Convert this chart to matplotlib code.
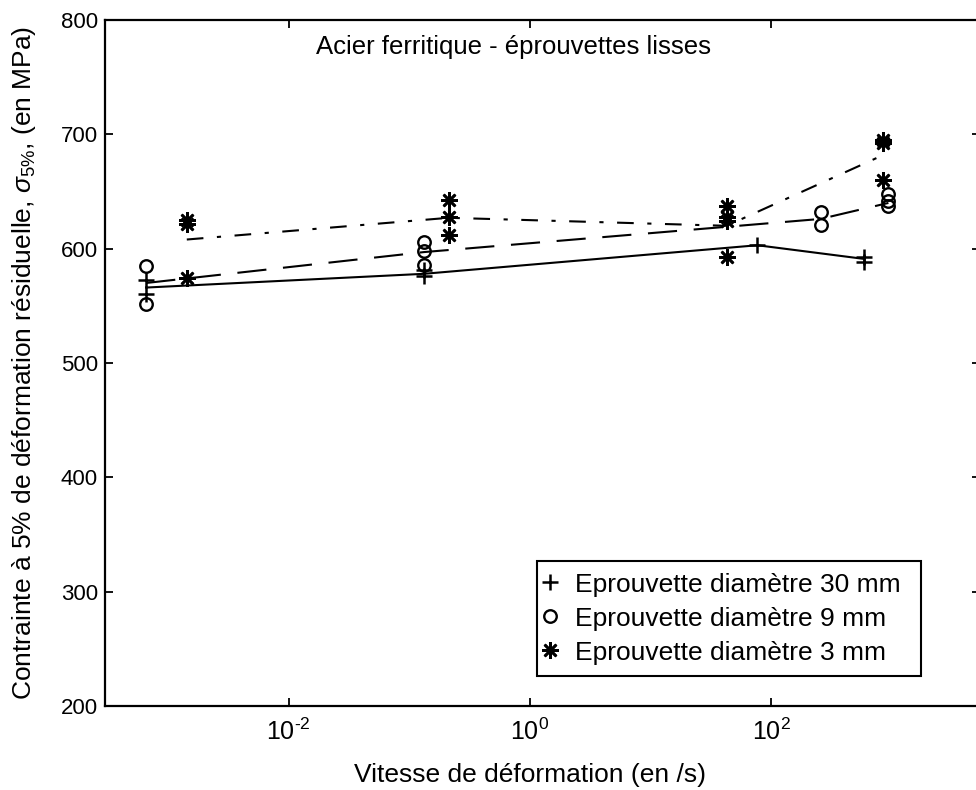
import matplotlib
matplotlib.use("Agg")
from matplotlib import pyplot as plt
from matplotlib.ticker import NullLocator

plt.rcParams["font.family"] = ["Liberation Sans", "DejaVu Sans"]
plt.rcParams["mathtext.fontset"] = "custom"
plt.rcParams["mathtext.rm"] = "Liberation Sans"
plt.rcParams["mathtext.it"] = "Liberation Sans:italic"
plt.rcParams["mathtext.default"] = "regular"

# measured points (strain rate in /s, stress in MPa)
rate_30 = [6.6e-4, 6.6e-4, 0.132, 0.132, 77, 595, 595]
sigma_30 = [573, 560, 581, 576, 603, 593, 588]

rate_9 = [6.6e-4, 6.6e-4, 0.132, 0.132, 0.132, 257, 257, 940, 940, 940]
sigma_9 = [585, 552, 606, 598, 586, 632, 621, 648, 642, 637]

rate_3 = [1.43e-3, 1.43e-3, 1.43e-3, 0.213, 0.213, 0.213,
          42.8, 42.8, 42.8, 42.8, 855, 855, 855]
sigma_3 = [625, 622, 574, 643, 628, 612, 637, 628, 624, 593, 695, 692, 660]

# lines joining the mean value of each group
line_rate_30 = [6.6e-4, 0.132, 77, 595]
line_sigma_30 = [566, 578, 603, 591]
line_rate_9 = [6.6e-4, 0.132, 257, 940]
line_sigma_9 = [570, 597, 626, 640]
line_rate_3 = [1.43e-3, 0.213, 42.8, 855]
line_sigma_3 = [608, 627, 620, 682]

labels = ["Eprouvette diamètre 30 mm", "Eprouvette diamètre 9 mm",
          "Eprouvette diamètre 3 mm"]
xtick_pos = [1e-2, 1, 1e2]
xtick_text = [r"$10^{\text{-}2}$", r"$10^{0}$", r"$10^{2}$"]

fig = plt.figure(figsize=(9.76, 7.9), dpi=100)
# right edge of the frame falls just outside the picture, as in the scan
ax = fig.add_axes([105 / 976, 84 / 790, 875 / 976, 686 / 790])

lw = 1.5
ax.plot(line_rate_30, line_sigma_30, color="k", lw=lw, linestyle="-")
ax.plot(line_rate_9, line_sigma_9, color="k", lw=lw, dashes=(14, 8))
ax.plot(line_rate_3, line_sigma_3, color="k", lw=lw, dashes=(8, 6.5, 2, 6.5))

ax.plot(rate_30, sigma_30, "k+", ms=12, mew=1.8, linestyle="none", label=labels[0])
ax.plot(rate_9, sigma_9, "o", mfc="none", mec="k", ms=9, mew=1.7,
        linestyle="none", label=labels[1])
ax.plot(rate_3, sigma_3, marker=(8, 2, 0), color="k", ms=12, mew=1.9,
        linestyle="none", label=labels[2])

ax.set_xscale("log")
ax.set_xlim(3e-4, 5.4e3)
ax.set_ylim(200, 800)
ax.set_xticks(xtick_pos)
ax.set_xticklabels(xtick_text)
ax.xaxis.set_minor_locator(NullLocator())
ax.set_yticks(range(200, 801, 100))

ax.tick_params(direction="in", top=True, right=True, length=6, width=1.3)
ax.tick_params(axis="x", pad=9, labelsize=18)
ax.tick_params(axis="y", pad=5, labelsize=16)
for sp in ax.spines.values():
    sp.set_linewidth(1.6)

ax.set_xlabel("Vitesse de déformation (en /s)", fontsize=19)
ax.xaxis.set_label_coords(0.486, -0.083)
ax.set_ylabel(r"Contrainte à 5% de déformation résiduelle, $\mathit{\sigma_{5\%}}$, (en MPa)",
              fontsize=19)
ax.yaxis.set_label_coords(-0.077, 0.5)

ax.text(0.467, 0.96, "Acier ferritique - éprouvettes lisses", transform=ax.transAxes,
        ha="center", va="center", fontsize=18.5)

leg = ax.legend(loc="lower left", bbox_to_anchor=(0.4937, 0.0437, 0.4389, 0.16),
                mode="expand", fontsize=19,
                frameon=True, fancybox=False, framealpha=1, edgecolor="k",
                borderpad=0.43, handlelength=0.1, handletextpad=0.9,
                labelspacing=0.38, borderaxespad=0)
leg.get_frame().set_linewidth(1.5)

fig.savefig("out.png", dpi=100)
